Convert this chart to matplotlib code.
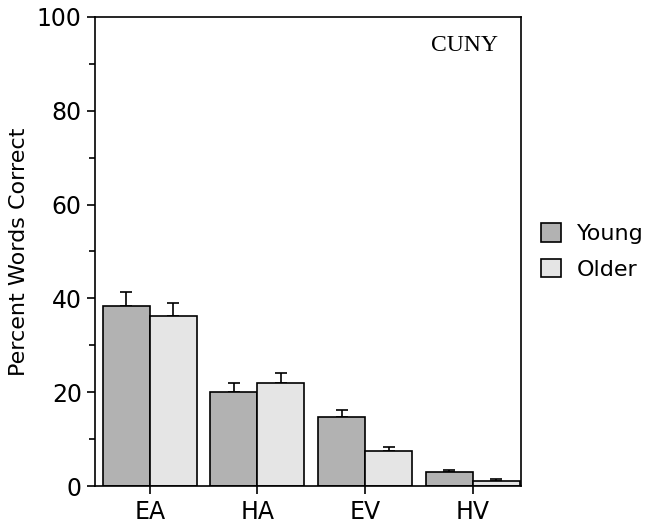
import matplotlib.pyplot as plt
import numpy as np

# Data
categories = ["EA", "HA", "EV", "HV"]
young = [38.4, 20.0, 14.8, 3.0]
young_err = [3.0, 2.0, 1.5, 0.35]
older = [36.2, 22.0, 7.4, 1.1]
older_err = [2.8, 2.1, 1.0, 0.3]

fig = plt.figure(figsize=(6.49, 5.28), dpi=100)
ax = fig.add_axes([95 / 649, 1 - 486 / 528, 426 / 649, 469 / 528])

x = np.arange(len(categories))
w = 0.437

ax.bar(x - w / 2, young, w, color="#b2b2b2", edgecolor="black", linewidth=1.2,
       label="Young", zorder=2)
ax.bar(x + w / 2, older, w, color="#e5e5e5", edgecolor="black", linewidth=1.2,
       label="Older", zorder=2)

# Upper error bars only
ax.errorbar(x - w / 2, young, yerr=[np.zeros(4), young_err], fmt="none",
            ecolor="black", elinewidth=1.2, capsize=4, capthick=1.2, zorder=1)
ax.errorbar(x + w / 2, older, yerr=[np.zeros(4), older_err], fmt="none",
            ecolor="black", elinewidth=1.2, capsize=4, capthick=1.2, zorder=1)

ax.set_xlim(-0.51, 3.45)
ax.set_ylim(0, 100)
ax.set_xticks(x)
ax.set_xticklabels(categories, fontsize=17)
ax.set_yticks(np.arange(0, 101, 20))
ax.set_yticks(np.arange(10, 100, 20), minor=True)
ax.tick_params(axis="y", labelsize=17, direction="out", length=6, width=1.2)
ax.tick_params(axis="y", which="minor", length=4, width=1.2)
ax.tick_params(axis="x", direction="out", length=6, width=1.2, pad=4)
for s in ax.spines.values():
    s.set_linewidth(1.2)

ax.set_ylabel("Percent Words Correct", fontsize=16, labelpad=6)
ax.text(0.867, 0.94, "CUNY", transform=ax.transAxes, ha="center", va="center",
        fontsize=17, family="Liberation Serif")

ax.legend(loc="center left", bbox_to_anchor=(1.0, 0.5), frameon=False,
          fontsize=16, handlelength=0.9, handleheight=0.9, handletextpad=0.7,
          labelspacing=0.65)

fig.savefig("out.png", dpi=100)
